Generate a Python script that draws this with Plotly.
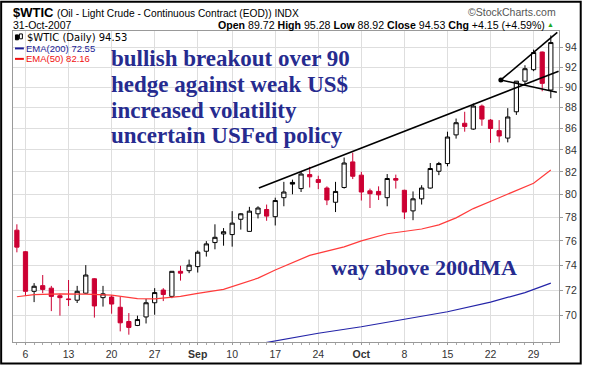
import math
import plotly.graph_objects as go

# ---------------- data ----------------
dates = [
    "2007-08-03", "2007-08-06", "2007-08-07", "2007-08-08", "2007-08-09", "2007-08-10",
    "2007-08-13", "2007-08-14", "2007-08-15", "2007-08-16", "2007-08-17",
    "2007-08-20", "2007-08-21", "2007-08-22", "2007-08-23", "2007-08-24",
    "2007-08-27", "2007-08-28", "2007-08-29", "2007-08-30", "2007-08-31",
    "2007-09-04", "2007-09-05", "2007-09-06", "2007-09-07",
    "2007-09-10", "2007-09-11", "2007-09-12", "2007-09-13", "2007-09-14",
    "2007-09-17", "2007-09-18", "2007-09-19", "2007-09-20", "2007-09-21",
    "2007-09-24", "2007-09-25", "2007-09-26", "2007-09-27", "2007-09-28",
    "2007-10-01", "2007-10-02", "2007-10-03", "2007-10-04", "2007-10-05",
    "2007-10-08", "2007-10-09", "2007-10-10", "2007-10-11", "2007-10-12",
    "2007-10-15", "2007-10-16", "2007-10-17", "2007-10-18", "2007-10-19",
    "2007-10-22", "2007-10-23", "2007-10-24", "2007-10-25", "2007-10-26",
    "2007-10-29", "2007-10-30", "2007-10-31",
]
opens = [76.90, 75.10, 71.90, 72.35, 72.15, 71.55, 71.30, 71.20, 71.75, 72.90, 71.40,
         71.45, 70.65, 69.55, 69.25, 69.90, 71.00, 72.00, 71.50, 73.50, 73.55,
         73.88, 75.14, 75.86, 76.58, 76.53, 77.83, 76.80, 78.30, 78.67,
         78.05, 79.70, 81.05, 80.50, 81.75, 81.30, 80.55, 79.30, 80.60, 82.90,
         81.70, 80.30, 80.25, 79.70, 81.40, 80.35, 78.55, 79.60, 80.55, 82.05,
         82.75, 85.40, 86.50, 85.95, 88.15, 86.80, 85.80, 85.10, 87.60, 90.60,
         91.75, 93.55, 89.72]
highs = [77.40, 75.15, 72.55, 73.20, 72.33, 71.70, 72.80, 72.33, 74.00, 72.95, 72.33,
         71.60, 71.45, 70.20, 70.00, 71.30, 72.15, 72.15, 73.50, 73.95, 74.45,
         75.20, 75.98, 77.40, 77.08, 78.53, 78.35, 78.90, 78.95, 79.10,
         79.70, 81.10, 81.30, 82.00, 82.45, 81.65, 80.70, 81.10, 83.30, 83.75,
         82.00, 80.50, 80.70, 81.80, 81.75, 80.40, 80.25, 80.80, 82.80, 82.90,
         85.70, 86.95, 87.60, 88.40, 88.30, 86.90, 86.80, 87.95, 90.60, 92.20,
         93.80, 93.60, 95.28]
lows = [75.05, 71.55, 71.05, 71.75, 70.35, 70.00, 70.75, 70.98, 71.70, 69.85, 70.70,
        70.15, 68.80, 68.55, 69.20, 69.40, 70.07, 71.13, 71.36, 72.75, 73.35,
        73.40, 74.70, 75.30, 75.60, 75.52, 76.95, 76.80, 77.90, 77.70,
        77.30, 78.95, 80.00, 80.20, 80.60, 80.45, 79.05, 78.45, 80.50, 81.35,
        79.45, 78.80, 79.50, 78.95, 80.50, 77.85, 77.75, 79.10, 80.50, 81.70,
        82.50, 85.05, 85.70, 85.88, 86.26, 84.65, 84.70, 84.70, 87.30, 90.15,
        91.60, 89.60, 88.92]
closes = [75.48, 71.90, 72.30, 72.05, 71.50, 71.40, 71.25, 71.90, 73.20, 70.75, 71.70,
          70.90, 69.45, 69.10, 69.70, 71.00, 71.80, 71.65, 73.50, 73.35, 74.00,
          75.06, 75.75, 76.30, 76.77, 77.50, 78.30, 78.53, 78.80, 78.10,
          79.45, 80.20, 80.90, 81.80, 81.55, 81.05, 79.50, 80.25, 82.80, 81.60,
          80.20, 80.05, 79.95, 81.40, 81.25, 78.45, 79.60, 80.55, 82.30, 82.75,
          85.20, 86.55, 86.20, 88.15, 86.90, 86.00, 85.30, 87.10, 90.60, 91.85,
          93.50, 90.38, 94.53]

ema50_dates = ["2007-08-03", "2007-08-07", "2007-08-10", "2007-08-15", "2007-08-20",
               "2007-08-23", "2007-08-27", "2007-08-30", "2007-09-04", "2007-09-07",
               "2007-09-13", "2007-09-17", "2007-09-21", "2007-09-27", "2007-10-01",
               "2007-10-04", "2007-10-10", "2007-10-12", "2007-10-16", "2007-10-18",
               "2007-10-23", "2007-10-25", "2007-10-29", "2007-10-31"]
ema50_vals = [71.47, 71.64, 71.69, 71.68, 71.60, 71.32, 71.30, 71.50, 71.74, 72.05,
              72.95, 73.60, 74.80, 75.50, 76.00, 76.60, 77.00, 77.35, 77.95, 78.75,
              79.70, 80.30, 80.97, 82.16]

ema200_dates = ["2007-09-13", "2007-09-14", "2007-09-24", "2007-10-01", "2007-10-08",
                "2007-10-15", "2007-10-22", "2007-10-26", "2007-10-31"]
ema200_vals = [67.85, 67.97, 68.66, 69.15, 69.70, 70.30, 71.05, 71.80, 72.55]

tick_dates = ["2007-08-06", "2007-08-13", "2007-08-20", "2007-08-27", "2007-09-04",
              "2007-09-10", "2007-09-17", "2007-09-24", "2007-10-01", "2007-10-08",
              "2007-10-15", "2007-10-22", "2007-10-29"]
tick_text = ["6", "13", "20", "27", "<b>Sep</b>", "10", "17", "24", "<b>Oct</b>",
             "8", "15", "22", "29"]
y_ticks = [70, 72, 74, 76, 78, 80, 82, 84, 86, 88, 90, 92, 94]

# hand-drawn trend lines (trading-day position, price)
trend_long_x, trend_long_y = [28.1, 62.9], [80.55, 91.6]
tri_top_x, tri_top_y = [56.2, 62.75], [90.72, 95.6]
tri_bot_x, tri_bot_y = [56.2, 62.7], [90.72, 89.5]

notes = ["bullish breakout over 90", "hedge against weak US$",
         "increased volatility", "uncertain USFed policy"]
note2 = "way above 200dMA"

# ---------------- figure ----------------
pos = {d: i for i, d in enumerate(dates)}
n = len(dates)

RED = "#cc0033"
BLUE_TXT = "#262b8f"

groups = {k: [] for k in ("hb", "fr", "fb", "hr")}
for i in range(n):
    prev = closes[i - 1] if i > 0 else opens[i]
    red = closes[i] < prev
    filled = closes[i] < opens[i]
    key = ("f" if filled else "h") + ("r" if red else "b")
    groups[key].append(i)

style = {
    "hb": ("black", "white"),
    "fr": (RED, RED),
    "fb": ("black", "black"),
    "hr": (RED, "white"),
}

fig = go.Figure()

fig.add_trace(go.Scatter(x=[pos[d] for d in ema200_dates], y=ema200_vals, mode="lines",
                         line=dict(color="#2424a8", width=1.2), hoverinfo="skip"))
fig.add_trace(go.Scatter(x=[pos[d] for d in ema50_dates], y=ema50_vals, mode="lines",
                         line=dict(color="#ff3b3b", width=1.2), hoverinfo="skip"))

for key, idx in groups.items():
    if not idx:
        continue
    lc, fc = style[key]
    fig.add_trace(go.Candlestick(
        x=idx,
        open=[opens[i] for i in idx], high=[highs[i] for i in idx],
        low=[lows[i] for i in idx], close=[closes[i] for i in idx],
        increasing=dict(line=dict(color=lc, width=1), fillcolor=fc),
        decreasing=dict(line=dict(color=lc, width=1), fillcolor=fc),
        whiskerwidth=0,
    ))

for tx, ty in ((trend_long_x, trend_long_y), (tri_top_x, tri_top_y), (tri_bot_x, tri_bot_y)):
    fig.add_trace(go.Scatter(x=tx, y=ty, mode="lines", line=dict(color="black", width=1.6),
                             hoverinfo="skip"))
fig.add_trace(go.Scatter(x=[tri_top_x[0]], y=[tri_top_y[0]], mode="markers",
                         marker=dict(color="black", size=5), hoverinfo="skip"))

# pixel -> paper helpers
L, R, T, B = 13, 23, 31, 23
W, H = 589, 372
PW, PH = W - L - R, H - T - B


def px(x):
    return (x - L) / PW


def py(y):
    return (H - B - y) / PH


ann = []


def add_text(text, x, y, size, color="black", family="Liberation Sans", anchor="left"):
    ann.append(dict(text=text, x=px(x), y=py(y), xref="paper", yref="paper",
                    xanchor=anchor, yanchor="middle", showarrow=False, borderpad=0,
                    font=dict(size=size, color=color, family=family)))


# header
add_text("<b>$WTIC</b>", 11.5, 12, 13)
add_text("(Oil - Light Crude - Continuous Contract (EOD)) INDX", 57, 12.6, 10.2)
add_text("©StockCharts.com", 564, 11.7, 10.5, color="#555555", anchor="right")
add_text("31-Oct-2007", 11.5, 25, 10.5)
chg = closes[-1] - closes[-2]
pct = chg / closes[-2] * 100
hdr = ("<b>Open</b> %.2f <b>High</b> %.2f <b>Low</b> %.2f <b>Close</b> %.2f "
       "<b>Chg</b> %+.2f (%+.2f%%)" % (opens[-1], highs[-1], lows[-1], closes[-1], chg, pct))
add_text(hdr, 553, 25, 10.6, anchor="right")
add_text("▲", 557.5, 24.6, 7, color="#22aa22", anchor="center")

# legend
add_text("$WTIC (Daily) %.2f" % closes[-1], 26, 37.5, 10, family="DejaVu Sans")
add_text("EMA(200) %.2f" % ema200_vals[-1], 25, 48.8, 9.5, color="#1c1c96")
add_text("EMA(50) %.2f" % ema50_vals[-1], 25, 59.5, 9.5, color="#f01010")

# comment text
for k, t in enumerate(notes):
    add_text("<b>%s</b>" % t, 111, 59.2 + 26.3 * k, 23, color=BLUE_TXT,
             family="Liberation Serif")
add_text("<b>%s</b>" % note2, 334, 273, 22, color=BLUE_TXT, family="Liberation Serif")

shapes = [
    # outer frame
    dict(type="rect", xref="paper", yref="paper", x0=px(1), x1=px(588), y0=py(371), y1=py(1),
         line=dict(color="black", width=2), layer="above"),
    # legend markers
    dict(type="line", xref="paper", yref="paper", x0=px(15), x1=px(24), y0=py(48.8), y1=py(48.8),
         line=dict(color="#1c1c96", width=2)),
    dict(type="line", xref="paper", yref="paper", x0=px(15), x1=px(24), y0=py(59.5), y1=py(59.5),
         line=dict(color="#f01010", width=2)),
    dict(type="rect", xref="paper", yref="paper", x0=px(15.5), x1=px(18.5), y0=py(40), y1=py(35),
         line=dict(color="black", width=1), fillcolor="black"),
    dict(type="rect", xref="paper", yref="paper", x0=px(19.5), x1=px(22.5), y0=py(39), y1=py(34),
         line=dict(color="black", width=1), fillcolor="white"),
]

axis_font = dict(size=10.5, color="#333333", family="Liberation Sans")
fig.update_layout(
    width=W, height=H,
    margin=dict(l=L, r=R, t=T, b=B, pad=0),
    paper_bgcolor="white", plot_bgcolor="white",
    showlegend=False,
    annotations=ann, shapes=shapes,
    xaxis=dict(
        range=[-0.45, 62.95],
        tickvals=[pos[d] for d in tick_dates], ticktext=tick_text,
        showgrid=True, gridcolor="#dedede", gridwidth=1,
        ticks="outside", ticklen=2, tickcolor="#999999",
        showline=True, linecolor="#999999", linewidth=1, mirror=True,
        zeroline=False, tickfont=axis_font,
        rangeslider=dict(visible=False),
        minor=dict(tick0=0, dtick=1, ticks="outside", ticklen=2, tickcolor="#aaaaaa",
                   showgrid=False),
    ),
    yaxis=dict(
        type="log", range=[math.log10(68.0), math.log10(95.74)],
        side="right", tickvals=y_ticks, ticktext=[str(v) for v in y_ticks],
        showgrid=True, gridcolor="#dedede", gridwidth=1,
        ticks="outside", ticklen=3, tickcolor="#999999",
        showline=True, linecolor="#999999", linewidth=1, mirror=True,
        zeroline=False, tickfont=axis_font,
    ),
)

fig.write_html(
    "out.html",
    config={"displayModeBar": False},
    post_script="document.body.style.margin='0px';document.body.style.overflow='hidden';",
)
